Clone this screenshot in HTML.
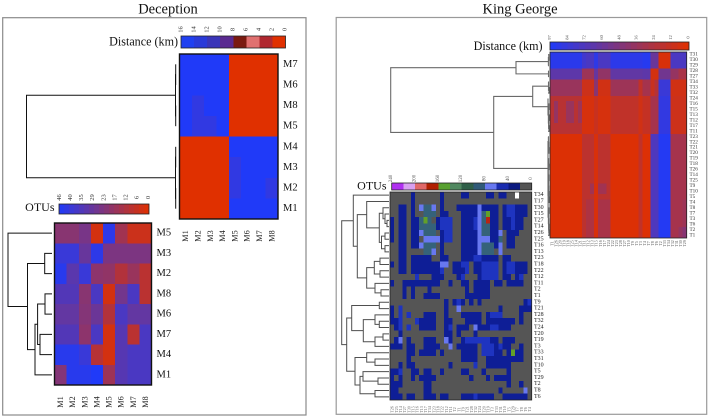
<!DOCTYPE html>
<html lang="en">
<head>
<meta charset="utf-8">
<title>OTU and distance heatmaps: Deception and King George</title>
<style>
html,body{margin:0;padding:0;background:#fff;}
svg{display:block;font-family:"Liberation Serif",serif;}
</style>
</head>
<body>
<svg id="chart" xmlns="http://www.w3.org/2000/svg" width="710" height="418" viewBox="0 0 710 418">
  <rect x="2.7" y="17.7" width="303.3" height="397.3" fill="#fff" stroke="#8a8a8a" stroke-width="1.2"/>
  <rect x="336.2" y="17.5" width="370.5" height="396.8" fill="#fff" stroke="#9a9a9a" stroke-width="1.2"/>
  <text x="168" y="13.5" font-size="14.5" text-anchor="middle" fill="#111">Deception</text>
  <text x="520" y="13.5" font-size="14.5" text-anchor="middle" fill="#111">King George</text>
  <text x="178" y="45.5" font-size="12.1" text-anchor="end" fill="#111">Distance (km)</text>
  <text x="54.5" y="211" font-size="12" text-anchor="end" fill="#111">OTUs</text>
  <text x="542.5" y="50" font-size="12.1" text-anchor="end" fill="#111">Distance (km)</text>
  <text x="386.5" y="189.5" font-size="12" text-anchor="end" fill="#111">OTUs</text>
</svg>
<script>
// ---------- Deception data ----------
const mLabels = ["M1","M2","M3","M4","M5","M6","M7","M8"];
const decDistRowLabels = ["M7","M6","M8","M5","M4","M3","M2","M1"];
const decDistanceRows = [
  [16,16,16,16,0,0,0,0],
  [16,16,16,16,0,0,0,0],
  [16,14.6,16,16,0,0,0,0],
  [16,14.6,14.6,16,0,0,0,0],
  [0,0,0,0,16,16,16,16],
  [0,0,0,0,14.6,16,16,16],
  [0,0,0,0,14.6,16,16,14.6],
  [0,0,0,0,16,16,16,16]
];
const decDistanceTicks = [16,14,12,10,8,6,4,2,0];
const decDistanceLegendColors = ["#2040f0","#2a3ad8","#3a35b8","#5a2a90","#7a1a10","#e07070","#b02830","#e03000"];
const decDistanceTree = [153,[4,[3.8,0,1],[3.8,2,3]],[4,[3.8,4,5],[3.8,6,7]]];

const decOtuRowLabels = ["M5","M3","M2","M8","M6","M7","M4","M1"];
const decOtuRows = [
  [21,21,25,3,43,15,5,5],
  [40,40,29,43,24,24,24,24],
  [44,32,40,20,19,11,17,9],
  [34,34,21,36,3,26,36,9],
  [30,30,22,28,11,36,30,30],
  [34,34,20,36,3,33,9,36],
  [44,44,40,10,3,33,36,36],
  [22,44,44,46,16,33,36,36]
];
const decOtuTicks = [46,40,35,29,23,17,12,6,0];
const decOtuTree = [44,0,[24.5,[7.3,1,2],[17,[14.4,[7,3,4],[12,5,6]],7]]];

// ---------- King George distance data ----------
const kgDistRowLabels = ["T31","T30","T29","T28","T27","T34","T33","T32","T24","T16","T15","T13","T12","T17","T11","T23","T22","T21","T20","T19","T18","T26","T14","T25","T9","T10","T5","T4","T8","T7","T3","T6","T2","T1"];
const kgDistColLabels = ["T1","T26","T20","T19","T18","T25","T14","T21","T11","T12","T13","T15","T16","T17","T24","T22","T23","T28","T27","T10","T9","T5","T3","T4","T7","T8","T6","T2","T33","T34","T32","T31","T30","T29"];
const distRowA = [92,92,92,92,92,92,92,92,80,76,76,90,76,76,76,91,91,91,91,91,91,91,91,94,94,60,60,4,4,4,76,76,76,76];
const distRowB = [66,66,66,66,66,66,66,66,34,34,34,62,40,40,40,64,64,64,64,64,64,64,64,66,66,6,6,56,56,56,38,38,28,28];
const distRowC = [36,36,36,36,36,36,36,36,10,10,10,44,8,8,8,34,34,34,34,34,34,34,16,30,30,12,22,84,84,84,8,8,8,8];
const distRowD = [20,20,20,20,20,20,20,20,5,5,5,12,5,5,5,16,16,16,16,16,16,16,8,14,14,30,30,88,88,88,10,10,10,10];
const distRowDs = [20,38,20,20,36,36,20,34,5,5,5,12,5,5,5,16,16,16,16,16,16,16,8,14,14,30,30,88,88,88,10,10,10,10];
const distRowE = [2,2,2,2,2,2,2,2,18,18,18,4,18,18,18,2,2,2,2,2,2,2,16,2,2,74,74,95,95,95,30,30,30,30];
const distRowF = [2,2,2,2,2,2,2,2,18,18,32,4,32,32,18,2,2,2,2,2,2,2,16,2,2,74,74,95,95,95,30,30,30,30];
const distRowG = [2,2,2,2,2,2,2,2,18,26,26,4,28,28,28,2,2,2,2,2,2,2,16,2,2,74,74,95,95,95,30,30,30,34];
const distRowH = [2,2,2,2,2,2,2,2,18,26,26,4,28,28,28,2,2,2,2,2,2,2,16,2,2,74,74,95,95,95,30,30,38,45];
const kgDistanceRows = [distRowA,distRowA,distRowA,distRowB,distRowB,distRowC,distRowC,distRowC,distRowD,distRowDs,distRowDs,distRowDs,distRowDs,distRowD,distRowD,distRowE,distRowE,distRowE,distRowE,distRowE,distRowE,distRowE,distRowE,distRowE,distRowF,distRowF,distRowE,distRowG,distRowG,distRowG,distRowG,distRowG,distRowH,distRowH];
const kgDistanceTicks = [97,84,72,60,48,36,24,12,0];
const kgDistanceTree = [159.3,
  [34,[1.6,[1.2,0,1],2],[1.5,3,4]],
  [56.3,
    [17.3,[1.5,5,[1,6,7]],[2,8,[1.6,[1.2,9,10],[1.4,[1,11,12],[1,13,14]]]]],
    [2,[1.6,15,[1.4,16,[1.2,17,18]]],
       [1.9,[1.7,[1.4,19,[1.2,20,21]],[1.6,[1.3,22,23],[1.4,24,[1.2,25,[1,26,27]]]]],
            [1.6,[1.2,28,29],[1.4,30,[1.2,31,[1,32,33]]]]]]
  ]
];

// ---------- King George OTU data (0 = absent, above 240 = off scale) ----------
const kgOtuRowLabels = ["T34","T17","T30","T15","T27","T14","T26","T25","T16","T13","T23","T18","T22","T12","T11","T2","T1","T9","T21","T28","T32","T24","T20","T19","T3","T33","T31","T10","T5","T29","T2","T8","T6"];
const kgOtuColLabels = ["T26","T25","T14","T27","T30","T15","T16","T13","T17","T34","T23","T18","T22","T12","T11","T2","T1","T9","T21","T28","T32","T24","T20","T19","T3","T33","T31","T10","T5","T29","T7","T8","T6","T4"];
const kgOtuRows = [
  [0,0,0,0,0,10,0,0,0,0,0,0,10,0,0,0,0,10,10,0,0,0,0,10,10,0,10,10,0,0,260,0,0,0],
  [0,0,0,0,0,10,0,0,0,0,0,0,10,0,0,0,0,0,0,0,0,0,0,0,0,0,0,0,0,0,0,0,0,0],
  [0,0,10,10,0,10,0,50,70,70,50,0,10,0,0,0,10,10,10,10,10,50,10,10,10,10,0,10,30,30,10,10,10,0],
  [0,0,10,10,0,10,0,0,70,70,70,0,10,10,0,0,0,10,10,10,10,50,70,125,10,10,0,10,30,30,10,10,10,0],
  [10,0,10,10,0,10,10,70,130,70,0,10,30,30,30,0,0,10,10,10,30,50,70,150,10,10,0,10,10,30,10,10,0,0],
  [10,0,10,10,0,10,10,70,70,70,70,10,30,30,30,0,0,10,10,10,30,50,70,70,10,10,0,10,10,30,10,10,0,0],
  [10,0,10,10,0,10,10,50,70,70,70,0,10,30,30,0,0,10,10,10,10,50,70,70,10,10,50,0,10,10,10,0,0,0],
  [10,0,10,10,0,10,10,0,50,50,50,50,10,30,30,0,0,10,10,10,10,50,50,50,10,10,70,0,10,10,0,0,0,0],
  [0,0,10,10,0,10,10,50,70,70,70,0,10,0,0,0,0,10,10,10,10,50,70,70,70,10,50,0,10,10,0,0,0,0],
  [0,0,10,10,0,0,0,0,70,70,50,0,10,0,0,0,0,10,10,10,10,50,70,70,70,0,50,0,0,0,0,0,0,0],
  [0,0,10,10,0,10,10,10,10,10,0,0,10,10,0,0,0,10,10,10,30,30,10,10,10,10,0,10,10,0,0,0,0,0],
  [10,0,10,10,0,10,10,10,10,10,10,10,50,50,0,10,10,30,30,0,10,10,30,30,30,30,0,10,30,30,10,10,10,0],
  [0,0,10,10,0,10,10,10,10,10,10,10,30,0,0,10,10,10,30,0,10,10,30,30,30,30,0,10,30,30,10,10,10,0],
  [0,0,0,0,0,0,30,0,0,0,10,10,10,0,0,0,10,30,0,0,0,10,30,30,30,30,0,10,10,0,10,30,0,0],
  [10,0,0,10,10,10,10,10,10,10,10,10,0,0,10,0,0,10,10,0,10,10,10,10,0,10,10,0,10,10,10,10,0,0],
  [0,0,0,10,0,10,0,0,0,10,0,0,0,0,0,0,0,0,10,0,10,10,10,10,0,0,0,0,0,0,0,0,0,0],
  [0,0,0,10,0,10,0,0,10,10,10,10,0,0,0,0,0,0,10,10,10,10,10,10,0,0,0,0,0,0,0,0,0,0],
  [0,0,0,0,0,0,0,0,0,0,0,0,0,10,0,10,30,10,0,10,0,10,0,0,0,0,0,0,0,0,0,0,10,30],
  [10,0,30,0,0,0,0,0,0,0,0,0,0,10,0,0,50,0,0,0,0,0,0,0,0,0,10,0,0,0,0,10,10,10],
  [10,0,30,0,30,0,0,0,10,10,10,0,0,10,0,0,0,10,10,10,10,10,0,10,30,30,30,0,0,0,0,10,0,0],
  [10,10,30,0,0,0,30,10,10,10,10,0,0,10,10,0,0,0,10,10,10,10,0,10,10,10,10,10,10,10,0,10,0,0],
  [0,10,30,0,30,0,0,10,10,10,10,0,0,10,30,0,10,10,10,0,50,10,10,10,30,30,10,10,10,0,0,0,0,0],
  [0,0,10,0,0,0,0,0,0,0,0,0,0,10,10,0,10,0,0,0,10,0,0,0,0,0,0,0,0,0,0,0,0,0],
  [0,10,50,0,10,0,0,0,10,10,10,0,0,50,10,0,0,10,30,30,30,30,30,30,10,10,0,10,10,10,0,0,0,0],
  [10,10,10,0,10,10,0,0,10,10,10,10,0,0,50,0,10,10,10,10,10,0,30,30,30,10,30,10,10,0,0,10,0,0],
  [0,0,0,0,10,10,0,10,10,10,10,0,10,0,0,0,0,10,10,10,10,0,30,30,30,10,10,0,10,130,10,10,0,0],
  [0,0,0,0,10,0,0,0,0,0,0,0,0,0,0,0,0,10,10,10,10,0,0,10,10,10,10,10,10,10,10,10,0,0],
  [0,0,10,0,10,10,0,0,0,0,0,0,0,0,10,0,0,0,0,0,30,0,0,10,10,10,10,10,10,0,0,0,0,0],
  [10,10,30,0,0,10,10,0,10,10,0,0,10,0,0,0,0,10,10,0,0,0,10,0,0,0,0,0,10,0,0,0,0,0],
  [10,0,10,0,0,10,0,10,10,10,10,0,0,0,0,0,0,0,0,10,0,0,0,10,0,10,10,10,10,0,0,0,0,0],
  [10,10,10,0,0,0,0,0,10,10,0,0,0,0,0,0,0,0,0,0,0,0,0,0,0,0,0,0,10,0,0,10,0,0],
  [10,10,0,0,0,0,0,0,10,10,0,0,0,0,0,0,0,0,0,0,0,0,0,0,0,0,10,0,0,0,0,0,50,0],
  [10,10,10,0,10,10,0,0,10,10,10,0,10,10,0,0,0,10,10,10,30,10,10,10,10,0,0,10,10,10,10,10,10,0]
];
const kgOtuTicks = [240,200,160,120,80,40,0];
const kgOtuTree = [47.3,
  [35.7,0,[31.7,
    [22.3,1,[9.7,[6,2,[4,3,[2,4,5]]],[7.5,[4,6,7],[4,8,9]]]],
    [22.3,[14.7,[9,10,11],[9,12,13]],[14,14,[8,15,16]]]
  ]],
  [42.3,
    [37.3,[9.7,17,18],[25.7,[14,19,[9.7,20,21]],[14,[6,22,23],24]]],
    [34,[22.3,25,[14,26,27]],[29,[26,28,[11,29,30]],[14,31,32]]]
  ]
];

// ---------- drawing ----------
const NS = "http://www.w3.org/2000/svg";
const svg = document.getElementById("chart");
const mix = (a, b, t) => Math.round(a + (b - a) * t);
const redBlue = max => v => {
  const t = Math.max(0, Math.min(1, v / max));
  return "rgb(" + mix(224, 32, t) + "," + mix(48, 58, t) + "," + mix(0, 248, t) + ")";
};
const otuBinColors = ["#555555","#0e1e96","#1e34c0","#6878f0","#35627a","#2f5f48","#508860","#62a028","#b82414","#e06868","#d8a0f0","#b030f0","#b030f0"];
const otuColor = v => {
  if (v > 240) return "#ffffff";
  return otuBinColors[Math.ceil(v / 20)];
};
function make(tag, attrs) {
  const n = document.createElementNS(NS, tag);
  for (const k in attrs) n.setAttribute(k, attrs[k]);
  svg.appendChild(n);
  return n;
}
function drawHeatmap(rows, box, color, cellName, frame) {
  const yAt = i => box.y + i * box.h / rows.length;
  const xAt = (j, cols) => box.x + j * box.w / cols;
  rows.forEach((row, i) => {
    row.forEach((v, j) => {
      const r = make("rect", {x: xAt(j, row.length), y: yAt(i), width: box.w / row.length, height: box.h / rows.length, fill: color(v), "shape-rendering": "crispEdges"});
      
      
    });
  });
  const b = make("rect", {x: box.x, y: box.y, width: box.w, height: box.h, fill: "none", stroke: frame.color, "stroke-width": frame.width});
  
  
}
function drawRowLabels(labels, box, x, size, fill, name) {
  labels.forEach((s, i) => {
    const t = make("text", {x: x, y: box.y + (i + 0.5) * box.h / labels.length, "font-size": size, fill: fill, "dominant-baseline": "central"});
    t.textContent = s;
    
    
  });
}
function drawColLabels(labels, box, y, size, fill, name) {
  labels.forEach((s, j) => {
    const x = box.x + (j + 0.5) * box.w / labels.length;
    const t = make("text", {x: x, y: y, "font-size": size, fill: fill, "text-anchor": "middle", "dominant-baseline": "central", transform: "rotate(-90 " + x + " " + y + ")"});
    t.textContent = s;
    
    
  });
}
function drawTree(tree, box, rowCount, edge, leafGap, stroke, width, name) {
  const heightX = h => edge - h;
  const rowY = i => box.y + (i + 0.5) * box.h / rowCount;
  const walk = n => {
    if (typeof n === "number") return {x: edge - leafGap, y: rowY(n)};
    const a = walk(n[1]);
    const b = walk(n[2]);
    const x = heightX(n[0]);
    const p = make("path", {d: "M" + a.x + " " + a.y + "H" + x + "V" + b.y + "H" + b.x, fill: "none", stroke: stroke, "stroke-width": width});
    
    
    return {x: x, y: (a.y + b.y) / 2};
  };
  walk(tree);
}
function drawGradientLegend(box, max, bins, name) {
  const color = redBlue(max);
  for (let k = 0; k < bins; k++) {
    const v = max - (k + 0.5) * max / bins;
    const r = make("rect", {x: box.x + k * box.w / bins, y: box.y, width: box.w / bins, height: box.h, fill: color(v), "shape-rendering": "crispEdges"});
    
    
  }
}
function drawPaletteLegend(box, colors, name) {
  colors.forEach((c, k) => {
    const r = make("rect", {x: box.x + k * box.w / colors.length, y: box.y, width: box.w / colors.length, height: box.h, fill: c, "shape-rendering": "crispEdges"});
    
    
  });
}
function legendFrame(box, name) {
  const r = make("rect", {x: box.x, y: box.y, width: box.w, height: box.h, fill: "none", stroke: "#222", "stroke-width": 0.8});
  
  
}
function drawLegendTicks(ticks, x0, x1, y, size, fill, name) {
  ticks.forEach((s, k) => {
    const x = x0 + k * (x1 - x0) / (ticks.length - 1);
    const t = make("text", {x: x, y: y, "font-size": size, fill: fill, "text-anchor": "middle", "dominant-baseline": "central", transform: "rotate(-90 " + x + " " + y + ")"});
    t.textContent = s;
    
    
  });
}

// Deception distance heatmap
const boxA = {x: 179.5, y: 54, w: 98.5, h: 165};
drawTree(decDistanceTree, boxA, 8, 179.5, 3.8, "#111", 1, "deception-distance-dendrogram-branch");
drawHeatmap(decDistanceRows, boxA, redBlue(16), "deception-distance-cell", {color: "#111", width: 1.4});
drawRowLabels(decDistRowLabels, boxA, 283, 10.5, "#111", "deception-distance-row-label");
drawColLabels(mLabels, boxA, 236, 8.2, "#222", "deception-distance-col-label");
const legA = {x: 181, y: 36, w: 104.5, h: 12};
drawPaletteLegend(legA, decDistanceLegendColors, "deception-distance-legend");
legendFrame(legA, "deception-distance-legend");
drawLegendTicks(decDistanceTicks, 181, 285, 29.5, 6.5, "#333", "deception-distance-legend-tick");

// Deception OTU heatmap
const boxB = {x: 54.5, y: 223, w: 97, h: 162};
drawTree(decOtuTree, boxB, 8, 52, 0, "#111", 1, "deception-otu-dendrogram-branch");
drawHeatmap(decOtuRows, boxB, redBlue(46), "deception-otu-cell", {color: "#111", width: 1.4});
drawRowLabels(decOtuRowLabels, boxB, 156.5, 10.5, "#111", "deception-otu-row-label");
drawColLabels(mLabels, boxB, 402, 8.2, "#222", "deception-otu-col-label");
const legB = {x: 59, y: 204, w: 90, h: 10};
drawGradientLegend(legB, 46, 18, "deception-otu-legend");
legendFrame(legB, "deception-otu-legend");
drawLegendTicks(decOtuTicks, 59.3, 148.3, 197.5, 6.5, "#333", "deception-otu-legend-tick");

// King George distance heatmap
const boxC = {x: 550, y: 52, w: 136.7, h: 186};
drawTree(kgDistanceTree, boxC, 34, 550, 2, "#6a6a6a", 1.1, "king-george-distance-dendrogram-branch");
drawHeatmap(kgDistanceRows, boxC, redBlue(97), "king-george-distance-cell", {color: "#222", width: 0.8});
drawRowLabels(kgDistRowLabels, boxC, 689.5, 5.2, "#333", "king-george-distance-row-label");
drawColLabels(kgDistColLabels, boxC, 243.5, 4, "#555", "king-george-distance-col-label");
const legC = {x: 550, y: 42, w: 139, h: 8};
drawGradientLegend(legC, 97, 24, "king-george-distance-legend");
legendFrame(legC, "king-george-distance-legend");
drawLegendTicks(kgDistanceTicks, 549.5, 688, 37.5, 4.5, "#555", "king-george-distance-legend-tick");

// King George OTU heatmap
const boxD = {x: 390, y: 192, w: 141.7, h: 208};
drawTree(kgOtuTree, boxD, 33, 389, 0, "#4f4f4f", 1, "king-george-otu-dendrogram-branch");
drawHeatmap(kgOtuRows, boxD, otuColor, "king-george-otu-cell", {color: "#222", width: 0.8});
drawRowLabels(kgOtuRowLabels, boxD, 534, 6, "#222", "king-george-otu-row-label");
drawColLabels(kgOtuColLabels, boxD, 409.5, 4, "#666", "king-george-otu-col-label");
const legD = {x: 391.7, y: 183, w: 140, h: 7};
drawPaletteLegend(legD, ["#b030f0","#d8a0f0","#e06868","#b02000","#58a030","#508860","#2f5f48","#305a78","#6878f0","#1a2cb0","#0c1a80","#555555"], "king-george-otu-legend");
legendFrame(legD, "king-george-otu-legend");
drawLegendTicks(kgOtuTicks, 391.7, 531.7, 178.5, 5, "#555", "king-george-otu-legend-tick");
</script>
</body>
</html>
